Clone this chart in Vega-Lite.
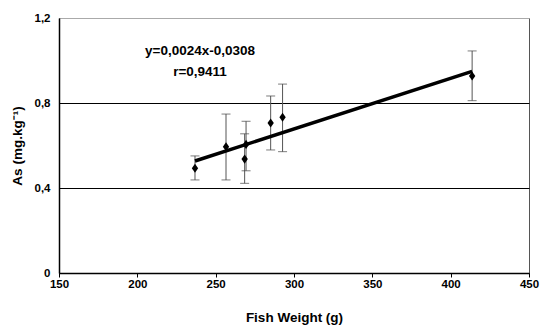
{
  "$schema": "https://vega.github.io/schema/vega-lite/v6.json",
  "width": 470,
  "height": 255,
  "autosize": {"type": "none"},
  "padding": {"left": 59, "top": 18, "right": 12, "bottom": 54},
  "background": "white",
  "config": {
    "font": "Liberation Sans",
    "view": {"stroke": "#555", "strokeWidth": 1}
  },
  "datasets": {
    "pts": [
      {"w": 236.8, "as": 0.493, "lo": 0.438, "hi": 0.551},
      {"w": 256.6, "as": 0.594, "lo": 0.438, "hi": 0.748},
      {"w": 268.5, "as": 0.536, "lo": 0.422, "hi": 0.655},
      {"w": 269.4, "as": 0.605, "lo": 0.481, "hi": 0.714},
      {"w": 285.1, "as": 0.706, "lo": 0.579, "hi": 0.833},
      {"w": 292.7, "as": 0.733, "lo": 0.571, "hi": 0.889},
      {"w": 413.7, "as": 0.927, "lo": 0.811, "hi": 1.045}
    ],
    "fit": [
      {"w": 236.8, "as": 0.527},
      {"w": 413.7, "as": 0.949}
    ],
    "notes": [
      {"w": 240, "as": 1.045, "label": "y=0,0024x-0,0308"},
      {"w": 240, "as": 0.946, "label": "r=0,9411"}
    ]
  },
  "encoding": {
    "x": {
      "field": "w", "type": "quantitative",
      "scale": {"domain": [150, 450], "nice": false, "zero": false},
      "axis": {
        "title": "Fish Weight (g)",
        "values": [150, 200, 250, 300, 350, 400, 450],
        "grid": false,
        "domainColor": "black", "domainWidth": 1.5,
        "tickColor": "black", "tickSize": 4,
        "labelFont": "Liberation Sans", "labelFontWeight": "bold", "labelFontSize": 11.5, "labelColor": "black",
        "labelPadding": 1, "labelFlush": false,
        "titleFont": "Liberation Sans", "titleFontWeight": "bold", "titleFontSize": 13.5, "titleColor": "black",
        "titleY": 37, "titleBaseline": "top"
      }
    },
    "y": {
      "field": "as", "type": "quantitative",
      "scale": {"domain": [0, 1.2], "nice": false},
      "axis": {
        "title": "As (mg.kg⁻¹)",
        "values": [0, 0.4, 0.8, 1.2],
        "labelExpr": "datum.value == 0 ? '0' : replace(format(datum.value, '.1f'), '.', ',')",
        "grid": true,
        "gridColor": {"condition": {"test": "datum.value > 1.1", "value": "#aaaaaa"}, "value": "black"},
        "gridWidth": 1,
        "domainColor": "black", "domainWidth": 1.5,
        "ticks": false,
        "labelFont": "Liberation Sans", "labelFontWeight": "bold", "labelFontSize": 11.5, "labelColor": "black",
        "labelPadding": 9, "labelFlush": false,
        "titleFont": "Liberation Sans", "titleFontWeight": "bold", "titleFontSize": 13.5, "titleColor": "black",
        "titleX": -42, "titleY": 127.5, "titleBaseline": "middle", "titleAlign": "center", "titleAngle": -90
      }
    }
  },
  "layer": [
    {
      "data": {"name": "pts"},
      "mark": {"type": "rule", "color": "#555", "strokeWidth": 1},
      "encoding": {"y": {"field": "lo", "type": "quantitative"}, "y2": {"field": "hi"}}
    },
    {
      "data": {"name": "pts"},
      "mark": {"type": "tick", "orient": "horizontal", "color": "#444", "size": 9, "thickness": 1},
      "encoding": {"y": {"field": "lo", "type": "quantitative"}}
    },
    {
      "data": {"name": "pts"},
      "mark": {"type": "tick", "orient": "horizontal", "color": "#444", "size": 9, "thickness": 1},
      "encoding": {"y": {"field": "hi", "type": "quantitative"}}
    },
    {
      "data": {"name": "fit"},
      "mark": {"type": "line", "color": "black", "strokeWidth": 3.5},
      "encoding": {}
    },
    {
      "data": {"name": "pts"},
      "mark": {"type": "point", "shape": "M0,-1.3L0.9,0L0,1.3L-0.9,0Z", "filled": true, "color": "black", "opacity": 1, "size": 50},
      "encoding": {}
    },
    {
      "data": {"name": "notes"},
      "mark": {"type": "text", "font": "Liberation Sans", "fontWeight": "bold", "fontSize": 13.5, "color": "black", "align": "center", "baseline": "middle"},
      "encoding": {"text": {"field": "label"}}
    }
  ]
}
